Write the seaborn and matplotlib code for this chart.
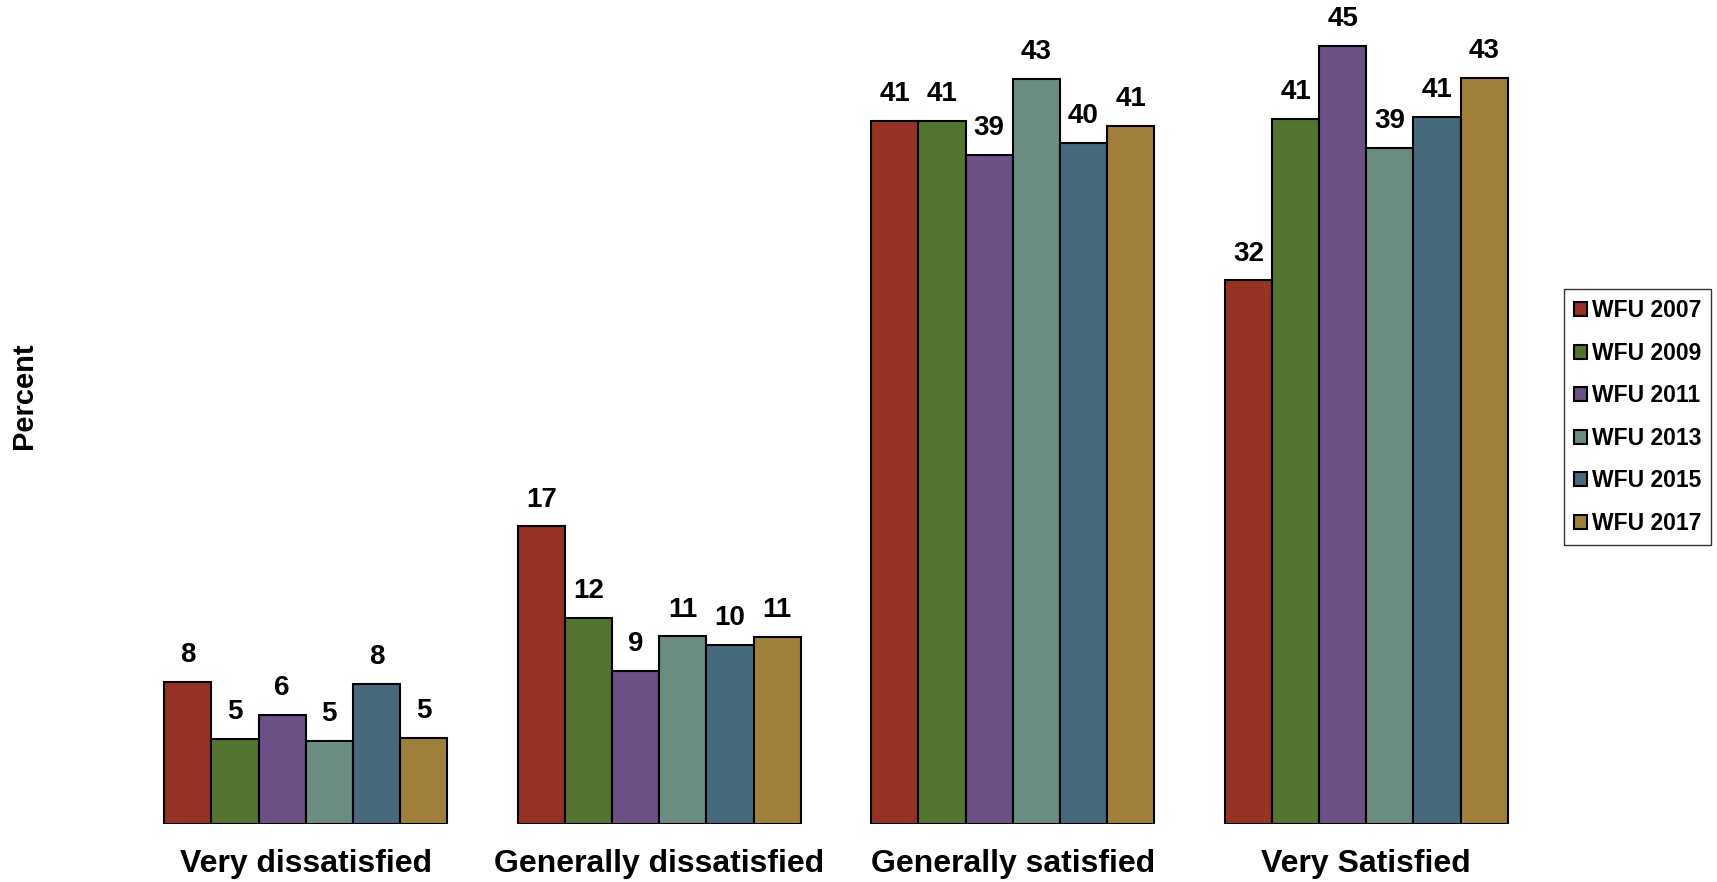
import numpy as np
import pandas as pd
import matplotlib
matplotlib.use("Agg")
import matplotlib.pyplot as plt
import seaborn as sns

categories = ["Very dissatisfied", "Generally dissatisfied", "Generally satisfied", "Very Satisfied"]
years = ["WFU 2007", "WFU 2009", "WFU 2011", "WFU 2013", "WFU 2015", "WFU 2017"]

# percent per category, one list per survey year
wfu_2007 = [8.25, 17.3, 40.9, 31.6]
wfu_2009 = [4.95, 12.0, 40.9, 41.0]
wfu_2011 = [6.35, 8.9, 38.9, 45.25]
wfu_2013 = [4.85, 10.9, 43.3, 39.3]
wfu_2015 = [8.15, 10.4, 39.6, 41.1]
wfu_2017 = [5.0, 10.85, 40.6, 43.4]

colors = ["#963224", "#547531", "#6a5084", "#6b8c80", "#46697c", "#a07f3a"]

series = [wfu_2007, wfu_2009, wfu_2011, wfu_2013, wfu_2015, wfu_2017]
rows = []
for yr, vals in zip(years, series):
    for cat, v in zip(categories, vals):
        rows.append({"category": cat, "year": yr, "percent": v})
df = pd.DataFrame(rows)

sns.set_style("white")
plt.rcParams['font.family'] = ['Liberation Sans', 'DejaVu Sans']
plt.rcParams['font.weight'] = 'bold'
plt.rcParams['text.color'] = 'black'
plt.rcParams['axes.labelcolor'] = 'black'
plt.rcParams['xtick.color'] = 'black'

fig = plt.figure(figsize=(17.17, 8.82), dpi=100)
ax = fig.add_axes([0.0751, 0.0658, 0.8236, 0.9165])

sns.barplot(data=df, x="category", y="percent", hue="year", order=categories,
            hue_order=years, palette=colors, saturation=1, width=0.8,
            edgecolor="black", linewidth=1.5, errorbar=None, ax=ax)

for cont in ax.containers:
    ax.bar_label(cont, labels=[f"{b.get_height():.0f}" for b in cont],
                 padding=10, fontsize=20, fontweight="bold", color="black")

ax.set_xlim(-0.5, 3.5)
ax.set_ylim(0, 47)
sns.despine(ax=ax, left=True, bottom=True)
ax.set_yticks([])
ax.set_xlabel("")
ax.set_ylabel("Percent", fontsize=21, fontweight="bold")
ax.yaxis.set_label_coords(-0.064, 0.53)
ax.tick_params(axis="x", length=0, pad=18, labelsize=23)
for t in ax.get_xticklabels():
    t.set_fontweight("bold")

handles, labels = ax.get_legend_handles_labels()
ax.get_legend().remove()
leg = ax.legend(handles, labels, loc="center left",
                bbox_to_anchor=(1564 / 1717, 0.527), bbox_transform=fig.transFigure,
                fontsize=16.5, frameon=True, fancybox=False, edgecolor="black",
                handlelength=0.55, handleheight=0.55, handletextpad=0.2,
                labelspacing=0.85, borderpad=0.45, borderaxespad=0)
leg.get_frame().set_linewidth(1.0)
for t in leg.get_texts():
    t.set_fontweight("bold")

fig.savefig("out.png", dpi=100)
